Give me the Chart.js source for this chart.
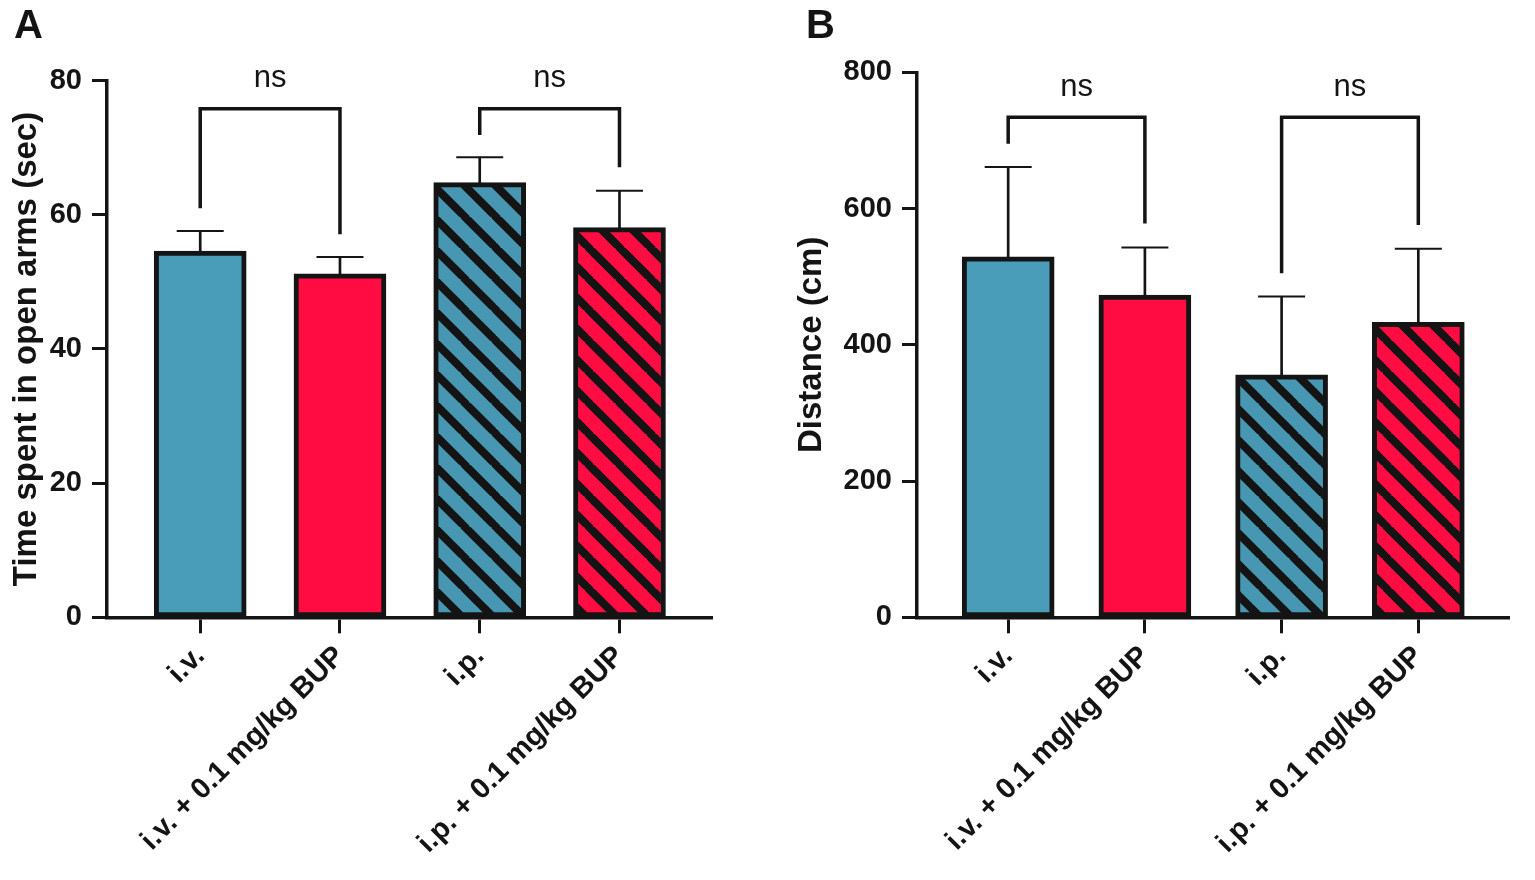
<!DOCTYPE html>
<html lang="en">
<head>
<meta charset="UTF-8">
<title>Time in open arms and distance</title>
<script src="https://cdn.jsdelivr.net/npm/chart.js@4"></script>
<style>
  body { margin: 0; background: #fff; width: 1535px; height: 880px; overflow: hidden; position: relative; }
  .panel { position: absolute; top: 0; height: 880px; }
  .letter { position: absolute; top: 4px; font-family: "Liberation Sans", Arial, sans-serif; font-weight: bold; font-size: 40px; line-height: 40px; color: #141414; }
</style>
</head>
<body>
<div class="panel" style="left:0;width:767px"><canvas id="timeChart"></canvas></div>
<div class="panel" style="left:767px;width:768px"><canvas id="distChart"></canvas></div>
<div class="letter" style="left:14px">A</div>
<div class="letter" style="left:806px">B</div>

<script>
// groups on the x axis
const categories = ['i.v.', 'i.v. + 0.1 mg/kg BUP', 'i.p.', 'i.p. + 0.1 mg/kg BUP'];

// panel A: time spent in open arms (sec), mean and SEM
const timeMean = [54.6, 51.2, 64.8, 58.1];
const timeSem = [3.0, 2.5, 3.8, 5.5];

// panel B: distance (cm), mean and SEM
const distMean = [529, 473, 356, 433];
const distSem = [132, 70, 115, 108];

// comparison brackets: which groups, label, bracket height, leg ends
const bracketPairs = [[1, 2], [3, 4]];
const sigLabels = ['ns', 'ns'];
const timeBracketTop = [75.8, 75.8];
const timeBracketLegs = [[61.0, 57.1], [71.9, 67.1]];
const distBracketTop = [734, 734];
const distBracketLegs = [[695, 578], [505, 576]];

const TEAL = '#4a9db8';
const RED = '#ff0c43';
const INK = '#141414';
const FONT = '"Liberation Sans", Arial, Helvetica, sans-serif';

// diagonal stripes for the i.p. bars
function hatch(base) {
    const s = 31;
    const c = document.createElement('canvas');
    c.width = s; c.height = s;
    const g = c.getContext('2d');
    g.fillStyle = base;
    g.fillRect(0, 0, s, s);
    g.strokeStyle = INK;
    g.lineWidth = 8;
    for (let k = -1; k <= 1; k++) {
        g.beginPath();
        g.moveTo(k * s - 2, -2);
        g.lineTo(k * s + s + 2, s + 2);
        g.stroke();
    }
    return g.createPattern(c, 'repeat');
}
const fills = [TEAL, RED, hatch('#4797b3'), hatch(RED)];

// "ns" above each bracket
const sigText = {
    id: 'sigText',
    afterDatasetsDraw(chart, args, opts) {
        const {ctx, scales: {x, y}} = chart;
        ctx.save();
        ctx.font = '31px ' + FONT;
        ctx.fillStyle = INK;
        ctx.textAlign = 'center';
        ctx.textBaseline = 'middle';
        opts.tops.forEach((top, i) => {
            const [a, b] = bracketPairs[i];
            const px = (x.getPixelForValue(a) + x.getPixelForValue(b)) / 2;
            ctx.fillText(sigLabels[i], px, y.getPixelForValue(top) - 30);
        });
        ctx.restore();
    }
};

function buildPanel(id, mean, sem, tops, legs, yMax, step, yTitle, p) {
    const pos = categories.map((_, i) => i + 1);
    const datasets = [
        {
            type: 'bar',
            data: pos.map((x, i) => ({x: x, y: mean[i]})),
            backgroundColor: fills,
            borderColor: INK,
            borderWidth: 5,
            borderSkipped: false,
            barThickness: 92,
            grouped: false,
            order: 3
        },
        {
            type: 'bar',
            data: pos.map((x, i) => ({x: x, y: [mean[i], mean[i] + sem[i]]})),
            backgroundColor: INK,
            borderWidth: 0,
            barThickness: 2,
            grouped: false,
            order: 2
        },
        {
            type: 'scatter',
            data: pos.map((x, i) => ({x: x, y: mean[i] + sem[i]})),
            pointStyle: 'line',
            pointRadius: 23.5,
            pointBorderWidth: 2,
            pointBorderColor: INK,
            order: 1
        }
    ];
    bracketPairs.forEach(([a, b], i) => {
        datasets.push({
            type: 'line',
            data: [{x: a, y: legs[i][0]}, {x: a, y: tops[i]}, {x: b, y: tops[i]}, {x: b, y: legs[i][1]}],
            borderColor: INK,
            borderWidth: 3.5,
            borderCapStyle: 'butt',
            borderJoinStyle: 'miter',
            pointRadius: 0,
            tension: 0,
            fill: false,
            clip: false,
            order: 0
        });
    });

    const tickFont = {family: FONT, size: 29, weight: 'bold'};
    return new Chart(document.getElementById(id), {
        data: {datasets: datasets},
        options: {
            responsive: true,
            maintainAspectRatio: false,
            animation: false,
            events: [],
            layout: {padding: {top: p.top, right: p.right, left: 0, bottom: 0}},
            plugins: {
                legend: {display: false},
                tooltip: {enabled: false},
                sigText: {tops: tops}
            },
            scales: {
                x: {
                    type: 'linear',
                    min: 0.333,
                    max: 4.667,
                    offset: false,
                    border: {display: true, width: 3.5, color: INK},
                    grid: {display: true, offset: false, drawOnChartArea: false, drawTicks: true, tickLength: 16, tickWidth: 3, tickColor: INK},
                    afterBuildTicks: s => { s.ticks = pos.map(v => ({value: v})); },
                    afterFit: s => { s.height = 880 - p.bottom; },
                    ticks: {
                        autoSkip: false,
                        minRotation: 45,
                        maxRotation: 45,
                        padding: 6,
                        color: INK,
                        font: tickFont,
                        callback: v => categories[v - 1]
                    }
                },
                y: {
                    min: 0,
                    max: yMax,
                    border: {display: true, width: 3.5, color: INK},
                    grid: {display: true, drawOnChartArea: false, drawTicks: true, tickLength: 15, tickWidth: 3, tickColor: INK},
                    afterFit: s => { s.width = p.axis; },
                    ticks: {stepSize: step, padding: 10, color: INK, font: tickFont},
                    title: {
                        display: true,
                        text: yTitle,
                        color: INK,
                        font: {family: FONT, size: 33, weight: 'bold'},
                        padding: {top: p.title, bottom: 0}
                    }
                }
            }
        },
        plugins: [sigText]
    });
}

buildPanel('timeChart', timeMean, timeSem, timeBracketTop, timeBracketLegs, 80, 20,
    'Time spent in open arms (sec)', {top: 80.7, right: 54.3, bottom: 617.3, axis: 107, title: 7});
buildPanel('distChart', distMean, distSem, distBracketTop, distBracketLegs, 800, 200,
    'Distance (cm)', {top: 72.3, right: 7, bottom: 617.3, axis: 150, title: 25});
</script>
</body>
</html>
